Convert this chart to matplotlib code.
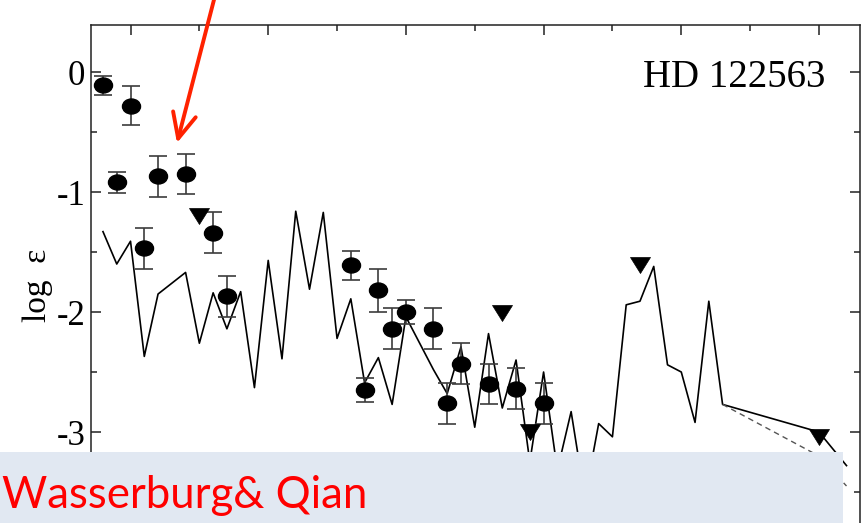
import numpy as np
import matplotlib
matplotlib.use("Agg")
import matplotlib.pyplot as plt
import matplotlib.path as mpath
from matplotlib.patches import Rectangle

# ---------------- data ----------------
# observed abundances (filled circles with error bars)
obs_Z = [38, 39, 40, 41, 42, 44, 46, 47, 56, 57, 58, 59, 60, 62, 63, 64, 66, 68, 70]
obs_logeps = [-0.11, -0.92, -0.28, -1.47, -0.87, -0.85, -1.34, -1.87,
              -1.61, -2.65, -1.82, -2.14, -2.00, -2.14, -2.76, -2.43, -2.60, -2.64, -2.76]
obs_err = [0.08, 0.09, 0.16, 0.17, 0.17, 0.17, 0.17, 0.17,
           0.12, 0.10, 0.18, 0.17, 0.10, 0.17, 0.17, 0.17, 0.17, 0.17, 0.17]

# upper limits (downward triangles)
lim_Z = [45, 67, 69, 77, 90]
lim_logeps = [-1.20, -2.01, -3.00, -1.61, -3.04]

# model curve (solid)
model_Z = [38, 39, 40, 41, 42, 44, 45, 46, 47, 48, 49, 50, 51, 52, 53, 54, 55, 56, 57, 58,
           59, 60, 62, 63, 64, 65, 66, 67, 68, 69, 70, 71, 72, 73, 74, 75, 76, 77, 78, 79,
           80, 81, 82, 83, 90, 92]
model_logeps = [-1.33, -1.60, -1.41, -2.37, -1.85, -1.67, -2.26, -1.84, -2.14, -1.83,
                -2.63, -1.57, -2.39, -1.16, -1.81, -1.17, -2.22, -1.89, -2.59, -2.38,
                -2.77, -2.04, -2.48, -2.68, -2.29, -2.96, -2.18, -2.80, -2.40, -3.25,
                -2.50, -3.32, -2.83, -3.55, -2.93, -3.04, -1.94, -1.91, -1.62, -2.44,
                -2.50, -2.92, -1.91, -2.77, -3.00, -3.28]

# alternative model tail (dashed)
alt_Z = [83, 90, 92]
alt_logeps = [-2.77, -3.20, -3.45]

yticks = [0, -1, -2, -3]
ytick_labels = ["0", "-1", "-2", "-3"]
xticks_major = [40, 50, 60, 70, 80, 90]
xticks_minor = [45, 55, 65, 75, 85]
yticks_minor = [-0.5, -1.5, -2.5, -3.5]

title_text = "HD 122563"
ylabel_text = "log  ε"
caption_text = "Wasserburg& Qian"

# ---------------- figure ----------------
W, H = 865, 523
fig = plt.figure(figsize=(W / 100, H / 100), dpi=100)

ax_left, ax_right = 91, 860
ax_top, ax_bottom = 25, 552  # bottom lies below the visible picture
ax = fig.add_axes([ax_left / W, 1 - ax_bottom / H,
                   (ax_right - ax_left) / W, (ax_bottom - ax_top) / H])
ax.set_xlim(37.13, 92.98)
ax.set_ylim(-4.0, 0.392)

serif = ["Liberation Serif", "DejaVu Serif"]

# markers
circ = mpath.Path.unit_circle()
ell = mpath.Path(circ.vertices * np.array([1.0, 0.83]), circ.codes)
tri = mpath.Path([[-1, 0.8], [1, 0.8], [0, -0.8], [-1, 0.8]],
                 [mpath.Path.MOVETO, mpath.Path.LINETO, mpath.Path.LINETO, mpath.Path.CLOSEPOLY])

ax.plot(model_Z, model_logeps, color="black", lw=1.2, zorder=2)
ax.plot(alt_Z, alt_logeps, color="#555555", lw=1.0, ls=(0, (4, 3)), zorder=2)

ax.errorbar(obs_Z, obs_logeps, yerr=obs_err, fmt="none", ecolor="#3c3c3c",
            elinewidth=1.2, capsize=6.2, capthick=1.2, zorder=3)
ax.plot(obs_Z, obs_logeps, ls="none", marker=ell, ms=13, mfc="black",
        mec="black", zorder=4)
ax.plot(lim_Z, lim_logeps, ls="none", marker=tri, ms=14.4, mfc="black",
        mec="black", mew=0.5, zorder=4)

ax.set_xticks(xticks_major)
ax.set_xticks(xticks_minor, minor=True)
ax.set_yticks(yticks)
ax.set_yticklabels(ytick_labels, fontfamily=serif, fontsize=25)
ax.set_yticks(yticks_minor, minor=True)
ax.tick_params(which="both", direction="in", top=True, right=True, bottom=True,
               labelbottom=False, labeltop=False, width=1.1, color="#222222")
ax.tick_params(which="major", length=7, pad=4)
ax.tick_params(which="minor", length=4)
for sp in ax.spines.values():
    sp.set_linewidth(1.1)
    sp.set_color("#222222")

ax.text((825 - ax_left) / (ax_right - ax_left), (ax_bottom - 87.3) / (ax_bottom - ax_top),
        title_text, transform=ax.transAxes, ha="right", va="baseline",
        fontfamily=serif, fontsize=28)

fig.text(38 / W, 1 - 285 / H, ylabel_text, rotation=90, ha="center", va="center",
         fontfamily=serif, fontsize=24)

# red arrow
ax.annotate("", xy=(177, H - 143), xycoords="figure pixels",
            xytext=(216, H + 8), textcoords="figure pixels",
            arrowprops=dict(arrowstyle="->, head_length=0.9, head_width=0.42",
                            mutation_scale=20, color="#FF2200", lw=2.8,
                            shrinkA=0, shrinkB=0),
            zorder=12)

# caption box
fig.add_artist(Rectangle((0, 0), 843 / W, (H - 452) / H, transform=fig.transFigure,
                         facecolor="#E1E8F2", edgecolor="none", zorder=10))
fig.text(2 / W, (H - 508) / H, caption_text, color="#FF0000", fontsize=31.5,
         fontfamily=["Lato", "DejaVu Sans"], ha="left", va="baseline", zorder=11)

fig.savefig("out.png", dpi=100)
